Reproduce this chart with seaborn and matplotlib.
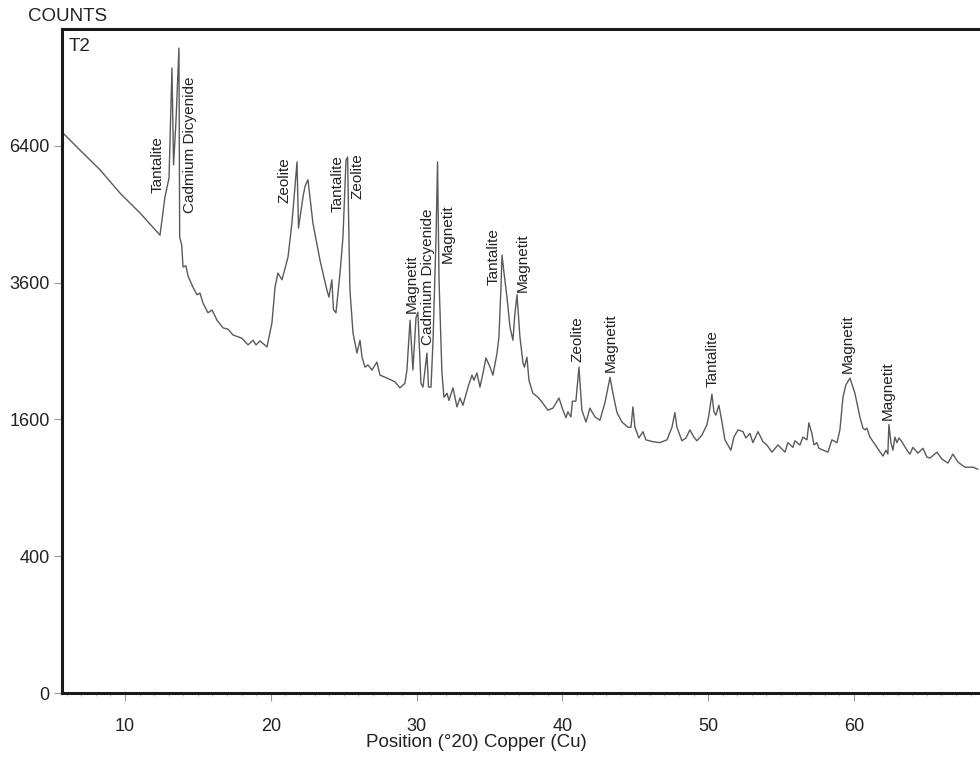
import numpy as np
import pandas as pd
import matplotlib
matplotlib.use('Agg')
import matplotlib.pyplot as plt
import seaborn as sns

# XRD scan of sample T2
two_theta = [5.75, 6.91, 8.29, 9.66, 11.03, 12.40, 12.74, 13.02, 13.22, 13.33,
             13.50, 13.70, 13.75, 13.89, 13.98, 14.18, 14.32, 14.66, 14.94, 15.14,
             15.35, 15.69, 15.97, 16.31, 16.72, 17.06, 17.41, 18.02, 18.44, 18.78,
             18.99, 19.26, 19.74, 20.08, 20.29, 20.49, 20.77, 21.18, 21.45, 21.80,
             21.90, 22.21, 22.35, 22.55, 22.89, 23.37, 23.85, 23.99, 24.19, 24.30,
             24.47, 24.75, 24.95, 25.16, 25.27, 25.34, 25.43, 25.64, 25.91, 26.12,
             26.26, 26.46, 26.67, 26.94, 27.28, 27.49, 27.97, 28.52, 28.86, 29.20,
             29.34, 29.55, 29.75, 29.96, 30.09, 30.30, 30.44, 30.71, 30.82, 30.99,
             31.13, 31.33, 31.44, 31.54, 31.74, 31.88, 32.09, 32.22, 32.50, 32.77,
             32.98, 33.18, 33.53, 33.80, 33.94, 34.14, 34.35, 34.56, 34.76, 35.04,
             35.24, 35.52, 35.65, 35.79, 35.86, 36.00, 36.20, 36.41, 36.61, 36.75,
             36.89, 37.09, 37.30, 37.40, 37.57, 37.71, 37.98, 38.33, 38.60, 39.01,
             39.36, 39.77, 40.04, 40.25, 40.38, 40.59, 40.69, 40.93, 41.14, 41.34,
             41.62, 41.76, 41.89, 42.03, 42.24, 42.58, 42.92, 43.27, 43.47, 43.75,
             44.09, 44.50, 44.71, 44.84, 44.98, 45.25, 45.53, 45.73, 46.21, 46.69,
             47.18, 47.52, 47.72, 47.86, 48.20, 48.48, 48.75, 49.02, 49.23, 49.57,
             49.92, 50.05, 50.26, 50.40, 50.53, 50.74, 50.95, 51.15, 51.56, 51.77,
             52.05, 52.39, 52.59, 52.87, 53.07, 53.42, 53.76, 54.03, 54.38, 54.79,
             55.27, 55.47, 55.82, 55.95, 56.30, 56.50, 56.78, 56.91, 57.12, 57.26,
             57.46, 57.60, 58.22, 58.49, 58.84, 59.04, 59.25, 59.45, 59.73, 60.07,
             60.41, 60.62, 60.76, 60.89, 61.10, 61.58, 61.99, 62.20, 62.33, 62.40,
             62.54, 62.68, 62.81, 62.95, 63.09, 63.29, 63.64, 63.84, 64.05, 64.39,
             64.74, 65.01, 65.22, 65.70, 66.04, 66.45, 66.79, 67.14, 67.61, 68.17,
             68.51]
counts = [6700, 6300, 5850, 5340, 4925, 4480, 5260, 5670, 8350, 5960,
          7020, 8890, 4440, 4290, 3880, 3900, 3720, 3520, 3390, 3420,
          3250, 3090, 3135, 2970, 2850, 2830, 2740, 2690, 2590, 2660,
          2590, 2650, 2560, 2930, 3520, 3770, 3650, 4060, 4720, 6030,
          4620, 5260, 5490, 5630, 4720, 4010, 3470, 3350, 3650, 3140,
          3090, 3770, 4440, 6070, 6140, 4780, 3470, 2770, 2470, 2660,
          2410, 2270, 2300, 2230, 2340, 2160, 2120, 2070, 1990, 2050,
          2230, 2970, 2230, 3010, 3100, 2050, 2000, 2470, 2000, 2000,
          2660, 4390, 6030, 3650, 2190, 1870, 1920, 1830, 1990, 1750,
          1860, 1770, 2000, 2160, 2090, 2190, 2000, 2190, 2400, 2270,
          2160, 2470, 2710, 3520, 4100, 3770, 3350, 2860, 2660, 3090,
          3390, 2710, 2330, 2270, 2410, 2090, 1920, 1870, 1810, 1710,
          1735, 1860, 1710, 1620, 1690, 1630, 1820, 1820, 2270, 1710,
          1570, 1650, 1735, 1690, 1630, 1590, 1800, 2130, 1920, 1680,
          1570, 1510, 1510, 1750, 1510, 1390, 1460, 1370, 1350, 1340,
          1370, 1510, 1680, 1510, 1360, 1390, 1480, 1400, 1360, 1420,
          1540, 1650, 1910, 1690, 1650, 1770, 1570, 1370, 1260, 1400,
          1480, 1460, 1390, 1440, 1340, 1460, 1350, 1315, 1240, 1315,
          1240, 1340, 1290, 1360, 1315, 1400, 1370, 1560, 1440, 1315,
          1340, 1280, 1240, 1370, 1340, 1480, 1870, 2030, 2120, 1920,
          1630, 1500, 1480, 1500, 1400, 1290, 1200, 1260, 1220, 1540,
          1340, 1260, 1400, 1340, 1390, 1350, 1260, 1220, 1290, 1230,
          1280, 1190, 1180, 1240, 1170, 1130, 1220, 1140, 1090, 1090,
          1070]

# phase labels: name, 2theta position, counts at the foot of the label
peak_names = ['Tantalite', 'Cadmium Dicyenide', 'Zeolite', 'Tantalite', 'Zeolite',
              'Magnetit', 'Cadmium Dicyenide', 'Magnetit', 'Tantalite', 'Magnetit',
              'Zeolite', 'Magnetit', 'Tantalite', 'Magnetit', 'Magnetit']
peak_pos = [12.23, 14.46, 20.97, 24.58, 25.95, 29.65, 30.75, 32.12, 35.31, 37.27,
            41.04, 43.33, 50.33, 59.59, 62.30]
peak_foot = [5344, 4925, 5132, 4945, 5216, 3086, 2588, 3952, 3558, 3437,
             2342, 2202, 2001, 2189, 1593]

y_ticks = [0, 400, 1600, 3600, 6400]
x_ticks = [10, 20, 30, 40, 50, 60]

df = pd.DataFrame({'two_theta': two_theta, 'counts': counts})

sns.set_style('white')
plt.rcParams['font.family'] = ['Liberation Sans', 'DejaVu Sans']

fig = plt.figure(figsize=(9.8, 7.69), dpi=100)
ax = fig.add_axes([0.0633, 0.0988, 0.9367, 0.8635])

sns.lineplot(data=df, x='two_theta', y='counts', ax=ax, color='#5a5a5a',
             linewidth=1.0, estimator=None, sort=False)

# square-root count axis, as in the diffractometer software
ax.set_yscale('function', functions=(lambda v: np.sqrt(np.clip(v, 0, None)),
                                     lambda v: np.square(v)))
ax.set_ylim(0, 9424)
ax.set_xlim(5.68, 68.65)
ax.set_yticks(y_ticks)
ax.set_yticklabels([str(t) for t in y_ticks])
ax.set_xticks(x_ticks)
ax.set_xticks(np.arange(6, 69, 1), minor=True)

for s in ['left', 'bottom', 'top']:
    ax.spines[s].set_linewidth(2.2)
    ax.spines[s].set_color('#1a1a1a')
ax.spines['right'].set_visible(False)

ax.tick_params(axis='both', which='major', bottom=True, left=True, direction='out',
               length=6, width=0.8, color='#999999', labelsize=13,
               labelcolor='#222222', pad=3)
ax.tick_params(axis='x', which='major', pad=12)
ax.tick_params(axis='x', which='minor', bottom=True, direction='out', length=2.5,
               width=0.6, color='#bbbbbb')
ax.tick_params(axis='y', which='minor', left=False)

for name, pos, foot in zip(peak_names, peak_pos, peak_foot):
    ax.text(pos, foot, name, rotation=90, ha='center', va='bottom',
            fontsize=11, color='#222222')

ax.text(0.007, 0.987, 'T2', transform=ax.transAxes, ha='left', va='top',
        fontsize=13.5, color='#222222')
fig.text(0.029, 0.99, 'COUNTS', ha='left', va='top', fontsize=13.5, color='#222222')

ax.set_ylabel('')
ax.set_xlabel('Position (°20) Copper (Cu)', fontsize=13.5, color='#222222')
ax.xaxis.set_label_coords(0.451, -0.062)

fig.savefig('out.png', dpi=100)
